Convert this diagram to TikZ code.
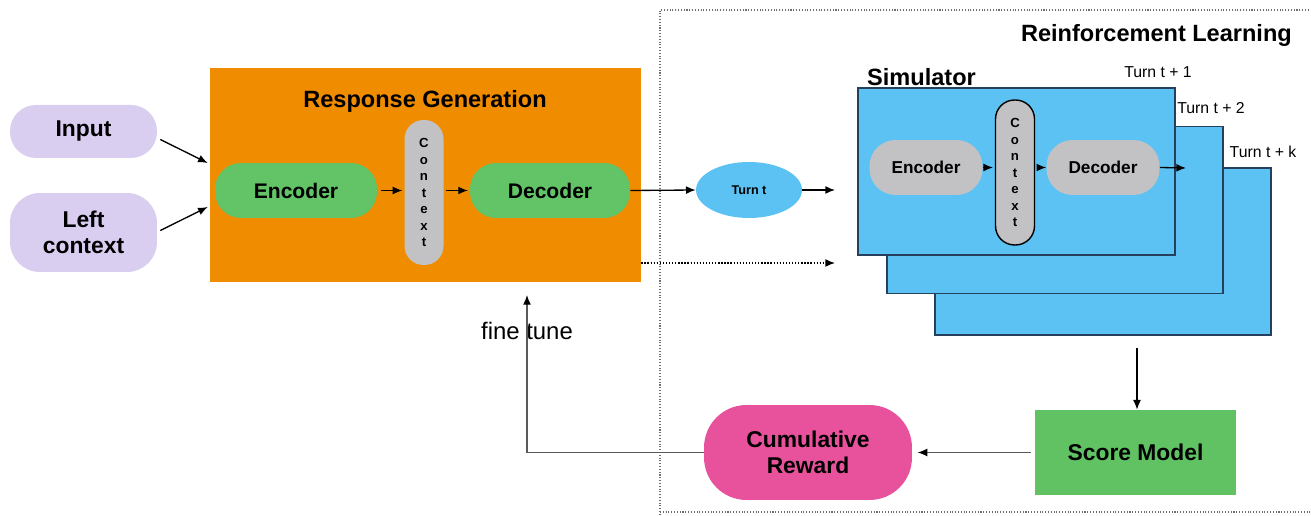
\documentclass[tikz,border=0pt]{standalone}
\usepackage{fontspec}
\setmainfont{Liberation Sans}
\usetikzlibrary{arrows.meta,shapes.geometric}

\definecolor{inLavender}{HTML}{D9CDF0}
\definecolor{genOrange}{HTML}{F08C00}
\definecolor{encGreen}{HTML}{62C466}
\definecolor{ctxGray}{HTML}{C2C2C4}
\definecolor{simBlue}{HTML}{5BC2F3}
\definecolor{simEdge}{HTML}{25405C}
\definecolor{rewardPink}{HTML}{E8529C}
\definecolor{scoreGreen}{HTML}{60C263}
\definecolor{frameGray}{HTML}{6E6E6E}
\definecolor{lineGray}{HTML}{5A5A5A}

\tikzset{
  pill/.style={rounded corners=#1, align=center, inner sep=0pt},
  title/.style={font=\fontsize{13.4}{16}\selectfont\bfseries},
  ctxword/.style={pill=0.38cm, minimum width=0.78cm, minimum height=2.9cm,
    font=\fontsize{7.5}{9.4}\selectfont\bfseries},
  layer/.style={fill=simBlue, draw=simEdge, line width=0.8pt,
    minimum height=3.34cm, inner sep=0pt},
  arr/.style={-{Latex[length=5.5pt,width=4.5pt,black]}, line width=0.75pt},
  rlframe/.style={draw=frameGray, densely dotted, line width=0.6pt}
}
\newcommand{\simlayer}[5]{%
  \node[layer, minimum width=#3] (#1) at #2 {};
  \node[font=\fontsize{9}{11}\selectfont] (#1label) at #4 {#5};%
}

\begin{document}
\begin{tikzpicture}[x=0.02cm, y=-0.02cm, font=\fontsize{13}{15}\selectfont]
\useasboundingbox (0,0) rectangle (1311,516);

% Reinforcement learning frame
\draw[rlframe] (1320,10) -- (660,10) -- (660,520);
\draw[rlframe] (660,512) -- (1320,512);
\node[title, anchor=east] (rltitle) at (1298,35) {Reinforcement Learning};

% Inputs
\node[pill=0.52cm, fill=inLavender, minimum width=2.94cm, minimum height=1.06cm,
  font=\fontsize{13}{15}\selectfont\bfseries] (input) at (83.5,131.5) {Input};
\node[pill=0.6cm, fill=inLavender, minimum width=2.94cm, minimum height=1.58cm,
  font=\fontsize{13}{15}\selectfont\bfseries] (left) at (83.5,232.5) {Left\\context};

% Response generation
\node[fill=genOrange, minimum width=8.62cm, minimum height=4.28cm] (rg) at (425.5,175) {};
\node[title] (rgtitle) at (425,101) {Response Generation};
\node[pill=0.52cm, fill=encGreen, minimum width=3.24cm, minimum height=1.1cm,
  font=\fontsize{12}{14}\selectfont\bfseries] (enc) at (296,190.5) {Encoder};
\node[ctxword, fill=ctxGray] (ctx) at (424,192.5) {C\\o\\n\\t\\e\\x\\t};
\node[pill=0.52cm, fill=encGreen, minimum width=3.2cm, minimum height=1.1cm,
  font=\fontsize{12}{14}\selectfont\bfseries] (dec) at (550,190.5) {Decoder};

\node[ellipse, fill=simBlue, minimum width=2.12cm, minimum height=1.12cm, inner sep=0pt,
  font=\fontsize{7.2}{9}\selectfont\bfseries] (turnt) at (749,190) {Turn t};

% Simulator stack
\simlayer{simk}{(1103,251.5)}{6.72cm}{(1263,152)}{Turn t + k}
\simlayer{simtwo}{(1055,210)}{6.72cm}{(1211,108)}{Turn t + 2}
\simlayer{simone}{(1016.5,171.5)}{6.34cm}{(1158,72)}{Turn t + 1}
\node[title, anchor=base west] (simtitle) at (861,86) {Simulator};
\node[pill=0.52cm, fill=ctxGray, minimum width=2.26cm, minimum height=1.1cm,
  font=\fontsize{9.8}{12}\selectfont\bfseries] (senc) at (926,167.5) {Encoder};
\node[ctxword, fill=ctxGray, draw=black, line width=0.8pt] (sctx) at (1015,172.5) {C\\o\\n\\t\\e\\x\\t};
\node[pill=0.52cm, fill=ctxGray, minimum width=2.26cm, minimum height=1.1cm,
  font=\fontsize{9.8}{12}\selectfont\bfseries] (sdec) at (1103,167.5) {Decoder};

% Reward loop
\node[fill=scoreGreen, minimum width=4.02cm, minimum height=1.7cm,
  font=\fontsize{13}{15}\selectfont\bfseries] (score) at (1135.5,452.5) {Score Model};
\node[pill=0.85cm, fill=rewardPink, minimum width=4.16cm, minimum height=1.9cm,
  font=\fontsize{13}{15}\selectfont\bfseries] (cum) at (808,452.5) {Cumulative\\Reward};
\node[font=\fontsize{13.6}{16}\selectfont] (finetune) at (527,331) {fine tune};

\coordinate (simin) at (835,190);
\coordinate (simin2) at (835,263);
\coordinate (simout) at (1186,168);
\coordinate (stackout) at (1137,348);
\coordinate (tunein) at (527,295);

% Connectors
\draw[arr] ([shift={(3,8)}]input.east) -- ([shift={(-2,-12)}]rg.west);
\draw[arr] ([shift={(3,-2)}]left.east) -- ([shift={(-2,32)}]rg.west);
\draw[arr, shorten <=2pt, shorten >=1pt] (enc.east) -- (enc.east -| ctx.west);
\draw[arr, shorten <=1pt, shorten >=1pt] (ctx.east |- dec.west) -- (dec.west);
\draw[arr] (dec.east) -- (turnt.west);
\draw[arr] (turnt.east) -- (simin);
\draw[arr, densely dotted] (rg.east |- simin2) -- (simin2);
\draw[arr, shorten >=1pt] (senc.east) -- (senc.east -| sctx.west);
\draw[arr, shorten <=1pt] (sctx.east |- sdec.west) -- (sdec.west);
\draw[arr] (sdec.east) -- (simout);
\draw[arr] (stackout) -- (stackout |- score.north);
\draw[arr, lineGray, shorten <=2pt, shorten >=3pt] (score.west) -- (cum.east);
\draw[arr, lineGray] (cum.west) -| (tunein);

\end{tikzpicture}
\end{document}
